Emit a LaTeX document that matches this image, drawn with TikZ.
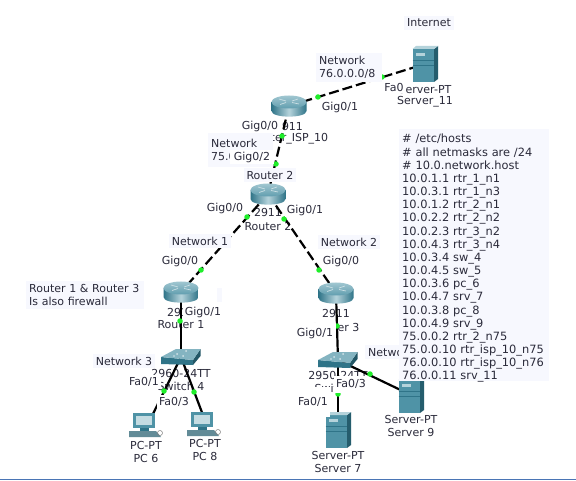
\documentclass[tikz,border=0pt]{standalone}
\usepackage{fontspec}
\setmainfont{DejaVu Sans}
\definecolor{notebg}{HTML}{F7F8FE}
\definecolor{txt}{HTML}{2A2A3A}
\definecolor{teal}{HTML}{4F93A6}
\definecolor{tealD}{HTML}{2F7488}
\definecolor{tealL}{HTML}{B5D3DB}
\definecolor{portg}{HTML}{1FEE2A}
\definecolor{edgeblue}{HTML}{4A75B5}
\tikzset{
  every node/.style={font=\fontsize{11pt}{13pt}\selectfont, text=txt, inner sep=0pt},
  dev/.style={minimum width=#1, minimum height=10pt, inner sep=0pt, draw=none},
  lnk/.style={draw=black, line width=2.2pt},
  dashlnk/.style={lnk, dash pattern=on 10pt off 4pt},
  port/.style={circle, fill=portg, minimum size=5.5pt, inner sep=0pt},
  lab/.style={fill=white, inner xsep=2pt, inner ysep=2pt},
  note/.style={fill=notebg, inner xsep=3pt, inner ysep=3pt, align=left},
  plain/.style={}
}
\newcommand{\routerat}[2]{%
  \begin{scope}[shift={(#1,#2)}]
    \shade[left color=tealD, right color=tealD, middle color=tealL] (-17.5,-4) -- (-17.5,5) .. controls (-17.5,12.5) and (17.5,12.5) .. (17.5,5) -- (17.5,-4) -- cycle;
    \shade[top color=tealL!80!teal, bottom color=teal!90!white] (0,-4) ellipse[x radius=17.5, y radius=6.5];
    \draw[white!70!teal, line width=.7pt] (-10,-7) -- (-3,-5) (10,-2) -- (3,-3.5) (-9,-1.5) -- (-3,-3.5) (9,-7) -- (3,-5);
  \end{scope}}
\newcommand{\serverat}[2]{%
  \begin{scope}[shift={(#1,#2)}]
    \fill[teal] (-12.5,-15) rectangle (9,18);
    \fill[tealD!80!black] (9,-15) -- (13,-18) -- (13,15) -- (9,18) -- cycle;
    \fill[tealL] (-12.5,-15) -- (-9,-18) -- (13,-18) -- (9,-15) -- cycle;
    \fill[tealL] (-9,-11) rectangle (0,-8);
    \draw[tealD, line width=.4pt] (-12.5,-4) -- (9,-4) (-12.5,1) -- (9,1);
  \end{scope}}
\newcommand{\switchat}[2]{%
  \begin{scope}[shift={(#1,#2)}]
    \fill[tealD] (-20,0) -- (12,3) -- (12,8) -- (-20,7) -- cycle;
    \fill[tealD!75!black] (12,3) -- (19.5,-8) -- (19.5,-1) -- (12,8) -- cycle;
    \fill[teal!70!white] (-20,0) -- (-5,-8) -- (19.5,-8) -- (12,3) -- cycle;
    \fill[white!75!teal] (-4,-3) circle[radius=1] (2,-1) circle[radius=1] (5,-6) circle[radius=1] (-7,-1) circle[radius=.8];
  \end{scope}}
\newcommand{\pcat}[2]{%
  \begin{scope}[shift={(#1,#2)}]
    \fill[teal] (-15,-11) rectangle (7,4);
    \fill[tealL!80!white] (-12,-8) rectangle (4,1);
    \fill[tealD] (-8,4) rectangle (1,7);
    \fill[teal!60!gray] (-19,7) -- (8,7) -- (13,13) -- (-19,13) -- cycle;
    \draw[gray, line width=.5pt] (12,9) circle[radius=2.5];
  \end{scope}}
\begin{document}
\begin{tikzpicture}[x=1pt,y=-1pt]
\useasboundingbox (0,0) rectangle (576,481);
\fill[white] (0,0) rectangle (576,481);
\fill[edgeblue] (0,478.5) rectangle (576,479.5);
% device anchors
\node[dev=35pt] (isp) at (289,106) {};
\node[dev=35pt] (r2) at (268,194) {};
\node[dev=35pt] (r1) at (181,292) {};
\node[dev=35pt] (r3) at (336,293) {};
\node[dev=39pt] (sw4) at (181,357) {};
\node[dev=39pt] (sw5) at (338,360) {};
\node[dev=26pt] (srv11) at (425,64) {};
\node[dev=26pt] (srv7) at (338,430) {};
\node[dev=26pt] (srv9) at (411,395) {};
\node[dev=30pt] (pc6) at (148,424) {};
\node[dev=30pt] (pc8) at (206,423) {};
% device labels
\node[plain] (l1) at (425,89) {Server-PT};
\node[plain] (l2) at (425,102) {Server\_11};
\node[plain] (l3) at (289,126) {2911};
\node[plain] (l4) at (289,139) {Router\_ISP\_10};
\node[plain] (l5) at (268,212) {2911};
\node[plain] (l6) at (268,226) {Router 2};
\node[plain] (l7) at (181,312) {2911};
\node[plain] (l8) at (181,325) {Router 1};
\node[plain] (l9) at (336,313) {2911};
\node[plain] (l10) at (336,327) {Router 3};
\node[plain] (l11) at (181,373) {2960-24TT};
\node[plain] (l12) at (181,386) {Switch 4};
\node[plain] (l13) at (338,375) {2950-24TT};
\node[plain] (l14) at (338,388) {Switch 5};
\node[plain] (l15) at (338,455) {Server-PT};
\node[plain] (l16) at (338,468) {Server 7};
\node[plain] (l17) at (411,419) {Server-PT};
\node[plain] (l18) at (411,432) {Server 9};
\node[plain] (l19) at (146,445) {PC-PT};
\node[plain] (l20) at (146,458) {PC 6};
\node[plain] (l21) at (205,443) {PC-PT};
\node[plain] (l22) at (205,456) {PC 8};
% connectors
\draw[dashlnk] (isp.center) -- (srv11.center);
\draw[dashlnk] (isp.center) -- (r2.center);
\draw[dashlnk] (r2.center) -- (r1.center);
\draw[dashlnk] (r2.center) -- (r3.center);
\draw[lnk] (r1.center) -- (sw4.center);
\draw[lnk] (sw4.center) -- (pc6.center);
\draw[lnk] (sw4.center) -- (pc8.center);
\draw[lnk] (r3.center) -- (sw5.center);
\draw[lnk] (sw5.center) -- (srv7.center);
\draw[lnk] (sw5.center) -- (srv9.center);
% devices
\routerat{289}{106}\routerat{268}{194}\routerat{181}{292}\routerat{336}{293}
\switchat{181}{357}\switchat{338}{360}
\serverat{425}{64}\serverat{338}{430}\serverat{411}{395}
\pcat{148}{424}\pcat{206}{423}
% port lights
\node[port] (pa) at (318,97) {};
\node[port] (pb) at (382,77) {};
\node[port] (pc) at (282,136) {};
\node[port] (pd) at (276,164) {};
\node[port] (pe) at (247,217) {};
\node[port] (pf) at (201,270) {};
\node[port] (pg) at (284,219) {};
\node[port] (ph) at (319,270) {};
\node[port] (pi) at (180,321) {};
\node[port] (pj) at (164,391) {};
\node[port] (pk) at (194,392) {};
\node[port] (pl) at (337,326) {};
\node[port] (pm) at (338,394) {};
\node[port] (pn) at (370,374) {};
% notes
\node[note] (n1) at (429,23) {Internet};
\node[note,anchor=north west,text width=60pt] (n2) at (316,53) {Network\\76.0.0.0/8};
\node[note,anchor=north west,text width=59pt,inner ysep=5.5pt] (n3) at (208,133) {Network\\75.0.0.0/8};
\node[note] (n4) at (270,175) {Router 2};
\node[note] (n5) at (200,241) {Network 1};
\node[note] (n6) at (349,242) {Network 2};
\node[note] (n7) at (124,361) {Network 3};
\node[note,anchor=west] (n8) at (365,352) {Network 4};
\node[note,minimum width=5pt,minimum height=14pt,inner sep=0pt] (n0) at (219,295) {};
\node[note,anchor=north west,text width=112pt] (n9) at (26,281) {Router 1 \& Router 3\\Is also firewall};
\fill[notebg] (399,129) rectangle (549,381);
\node[note,fill=none,anchor=north west,text width=146pt,font=\fontsize{11.4pt}{13.17pt}\selectfont] (n10) at (399,131) {\# /etc/hosts\\\# all netmasks are /24\\\# 10.0.network.host\\10.0.1.1 rtr\_1\_n1\\10.0.3.1 rtr\_1\_n3\\10.0.1.2 rtr\_2\_n1\\10.0.2.2 rtr\_2\_n2\\10.0.2.3 rtr\_3\_n2\\10.0.4.3 rtr\_3\_n4\\10.0.3.4 sw\_4\\10.0.4.5 sw\_5\\10.0.3.6 pc\_6\\10.0.4.7 srv\_7\\10.0.3.8 pc\_8\\10.0.4.9 srv\_9\\75.0.0.2 rtr\_2\_n75\\75.0.0.10 rtr\_isp\_10\_n75\\76.0.0.10 rtr\_isp\_10\_n76\\76.0.0.11 srv\_11};
% port labels
\node[lab] (g1) at (394,87) {Fa0};
\node[lab] (g2) at (340,107) {Gig0/1};
\node[lab,inner xsep=3pt] (g3) at (260,126) {Gig0/0};
\node[lab,inner xsep=4pt] (g4) at (252,157) {Gig0/2};
\node[lab] (g5) at (225,208) {Gig0/0};
\node[lab] (g6) at (305,210) {Gig0/1};
\node[lab] (g7) at (180,261) {Gig0/0};
\node[lab] (g8) at (203,312) {Gig0/1};
\node[lab] (g9) at (341,261) {Gig0/0};
\node[lab,minimum height=20pt,minimum width=42pt] (g10) at (315,333) {Gig0/1};
\node[lab] (g11) at (144,382) {Fa0/1};
\node[lab] (g12) at (174,402) {Fa0/3};
\node[lab,minimum height=17pt,minimum width=34pt] (g13) at (351,384) {Fa0/3};
\node[lab,minimum height=30pt] (g14) at (313,402) {Fa0/1};
\end{tikzpicture}
\end{document}
